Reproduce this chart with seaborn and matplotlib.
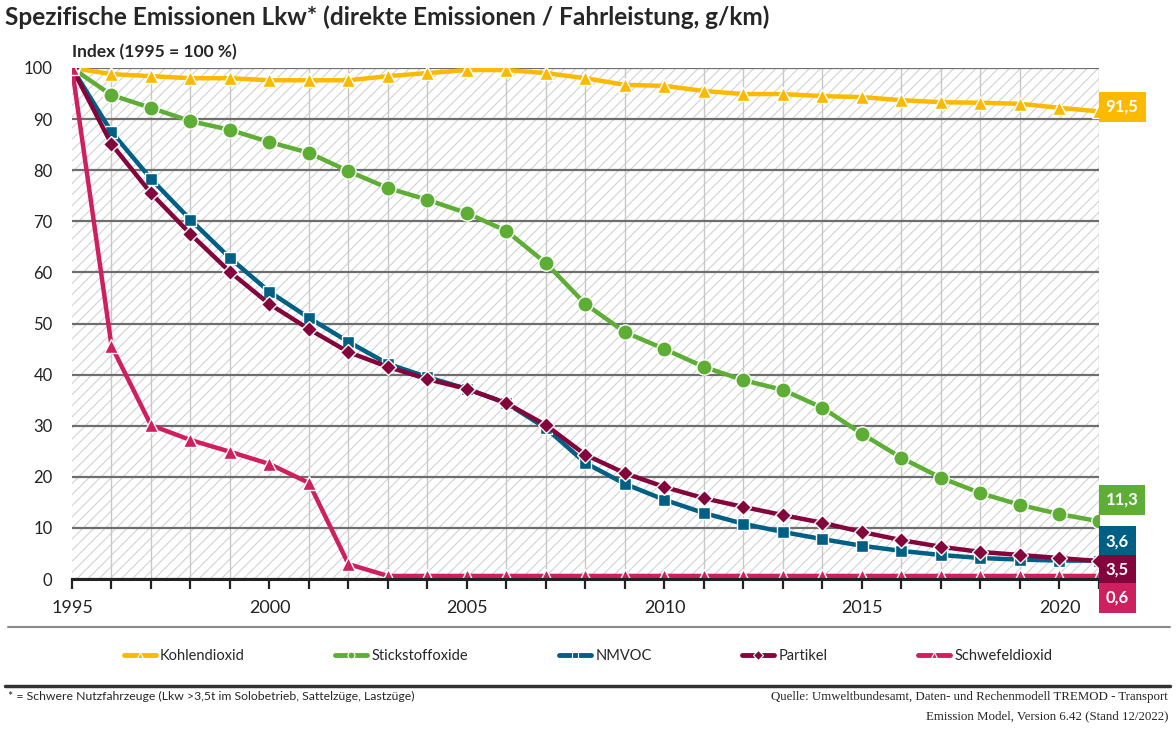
import matplotlib
matplotlib.use("Agg")
import matplotlib.pyplot as plt
from matplotlib import font_manager
from matplotlib.lines import Line2D
from matplotlib.patches import Rectangle
import seaborn as sns
import pandas as pd

# data
years = list(range(1995, 2022))
kohlendioxid = [100, 98.8, 98.4, 98.0, 98.0, 97.6, 97.6, 97.6, 98.4, 99.0, 99.6, 99.6, 99.0,
                98.0, 96.7, 96.5, 95.5, 94.9, 94.9, 94.5, 94.3, 93.7, 93.3, 93.2, 93.0, 92.2, 91.5]
stickstoffoxide = [100, 94.7, 92.2, 89.6, 87.9, 85.5, 83.4, 79.8, 76.5, 74.2, 71.6, 68.1, 61.8,
                   53.8, 48.3, 45.0, 41.5, 38.9, 37.0, 33.5, 28.4, 23.7, 19.8, 16.8, 14.5, 12.7, 11.3]
nmvoc = [100, 87.5, 78.3, 70.3, 62.8, 56.2, 51.1, 46.4, 42.1, 39.5, 37.2, 34.4, 29.5,
         22.7, 18.6, 15.5, 12.9, 10.8, 9.2, 7.8, 6.5, 5.5, 4.7, 4.1, 3.8, 3.6, 3.6]
partikel = [100, 85.1, 75.5, 67.5, 60.1, 53.8, 48.9, 44.4, 41.5, 39.1, 37.2, 34.4, 30.1,
            24.3, 20.7, 18.0, 15.8, 14.1, 12.5, 11.0, 9.2, 7.6, 6.3, 5.3, 4.7, 4.1, 3.5]
schwefeldioxid = [100, 45.6, 30.1, 27.2, 24.9, 22.5, 18.8, 2.9] + [0.6] * 19

series_names = ["Kohlendioxid", "Stickstoffoxide", "NMVOC", "Partikel", "Schwefeldioxid"]
series_values = [kohlendioxid, stickstoffoxide, nmvoc, partikel, schwefeldioxid]
colors = ["#FBB900", "#5EAD35", "#005F85", "#83053C", "#CE1F5E"]
markers = ["^", "o", "s", "D", "^"]
marker_sizes = [10, 11, 9, 8, 10]
end_labels = ["91,5", "11,3", "3,6", "3,5", "0,6"]
end_label_y = [92.4, 15.5, 7.4, 1.8, -3.7]

installed = {f.name for f in font_manager.fontManager.ttflist}
narrow = "Liberation Sans Narrow" if "Liberation Sans Narrow" in installed else "Lato"

sns.set_style("white")
plt.rcParams["font.family"] = ["Lato", "DejaVu Sans"]
plt.rcParams["hatch.linewidth"] = 0.8

fig = plt.figure(figsize=(11.76, 7.37), dpi=100)
ax = fig.add_axes([72 / 1176, 1 - 579 / 737, (1099 - 72) / 1176, (579 - 68) / 737])

# hatched plot background
ax.add_patch(Rectangle((0, 0), 1, 1, transform=ax.transAxes, facecolor="white",
                       edgecolor="#d2d2d2", hatch="///", lw=0, zorder=0.1))

df = pd.DataFrame({"Jahr": years})
for name, vals in zip(series_names, series_values):
    df[name] = vals

for name, col, mk, ms in zip(series_names, colors, markers, marker_sizes):
    sns.lineplot(data=df, x="Jahr", y=name, ax=ax, color=col, lw=3.2, marker=mk,
                 markersize=ms, markeredgecolor="white", markeredgewidth=1.0, zorder=3,
                 legend=False)

ax.set_xlim(1995, 2021)
ax.set_ylim(0, 100)
ax.set_xlabel("")
ax.set_ylabel("")

ax.set_yticks(range(0, 101, 10))
ax.set_xticks(range(1995, 2021, 5))
ax.set_xticks(years, minor=True)
ax.set_axisbelow(True)
ax.yaxis.grid(True, color="#6e6e6e", lw=1.6)
ax.xaxis.grid(True, which="minor", color="#c8c8c8", lw=1.0)
ax.xaxis.grid(False, which="major")
ax.tick_params(axis="y", length=0, pad=14, labelsize=12, labelcolor="#222222")
ax.tick_params(axis="x", which="both", direction="out", length=7, width=1.6,
               color="#222222", bottom=True, labelsize=13, labelcolor="#222222", pad=8)
for s in ["top", "right", "left"]:
    ax.spines[s].set_visible(False)
ax.spines["bottom"].set_color("#222222")
ax.spines["bottom"].set_linewidth(2.2)
ax.spines["bottom"].set_zorder(4)

# value boxes at the right end
for lab, yy, col in zip(end_labels, end_label_y, colors):
    ax.text(2021.17, yy, lab, ha="left", va="center", color="white", fontsize=12,
            fontweight="bold", clip_on=False, zorder=5,
            bbox=dict(boxstyle="square,pad=0.42", fc=col, ec="none"))

fig.text(5 / 1176, 1 - 17 / 737, "Spezifische Emissionen Lkw* (direkte Emissionen / Fahrleistung, g/km)",
         ha="left", va="center", fontsize=17.6, fontweight="bold", family=[narrow, "DejaVu Sans"])
fig.text(72 / 1176, 1 - 52 / 737, "Index (1995 = 100 %)", ha="left", va="center",
         fontsize=12.5, fontweight="bold", family=[narrow, "DejaVu Sans"])

handles = [Line2D([], [], color=c, lw=3.5, marker=m, markersize=5, markeredgecolor="white",
                  markeredgewidth=0.8) for c, m in zip(colors, markers)]
fig.legend(handles, series_names, loc="center", bbox_to_anchor=(0.5, 1 - 656 / 737), ncol=5,
           frameon=False, handlelength=2.2, handletextpad=0.3, columnspacing=6.2,
           prop={"family": narrow, "size": 10.5})

fig.add_artist(Line2D([8 / 1176, 1170 / 1176], [1 - 627 / 737] * 2, color="#8a8a8a", lw=1.5))
fig.add_artist(Line2D([5 / 1176, 1170 / 1176], [1 - 686 / 737] * 2, color="#333333", lw=2.5))

fig.text(8 / 1176, 1 - 696 / 737,
         "* = Schwere Nutzfahrzeuge (Lkw >3,5t im Solobetrieb, Sattelzüge, Lastzüge)",
         ha="left", va="center", fontsize=8.8, family=[narrow, "DejaVu Sans"])
fig.text(1168 / 1176, 1 - 697 / 737,
         "Quelle: Umweltbundesamt, Daten- und Rechenmodell TREMOD - Transport",
         ha="right", va="center", fontsize=9.3, family=["Liberation Serif", "DejaVu Serif"])
fig.text(1168 / 1176, 1 - 716 / 737, "Emission Model, Version 6.42 (Stand 12/2022)",
         ha="right", va="center", fontsize=9.3, family=["Liberation Serif", "DejaVu Serif"])

fig.savefig("out.png", dpi=100)
